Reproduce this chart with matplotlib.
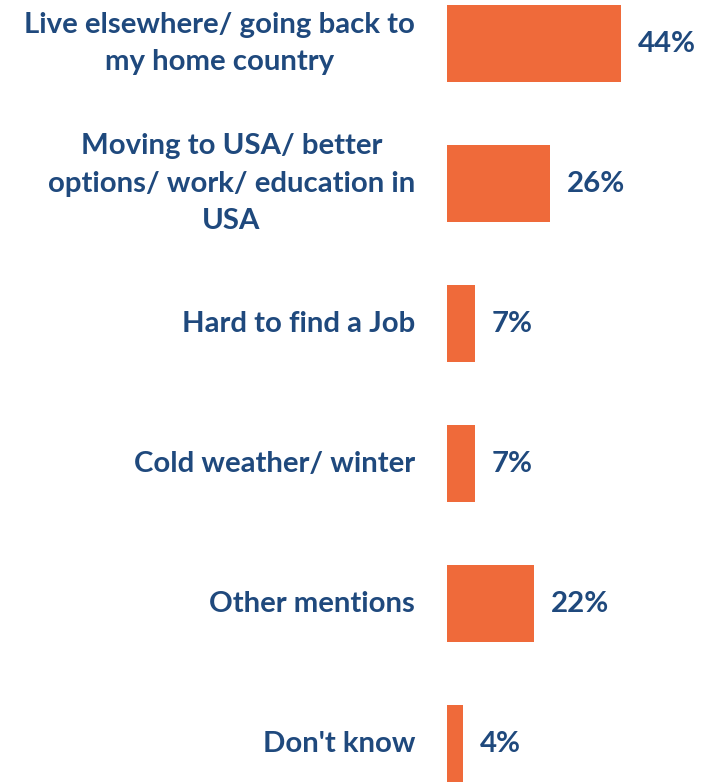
import matplotlib.pyplot as plt

# データ
categories = [
    "Live elsewhere/ going back to\nmy home country",
    "Moving to USA/ better\noptions/ work/ education in\nUSA",
    "Hard to find a Job",
    "Cold weather/ winter",
    "Other mentions",
    "Don't know",
]
values = [44, 26, 7, 7, 22, 4]
value_labels = ["44%", "26%", "7%", "7%", "22%", "4%"]

bar_color = "#EF6A3A"
text_color = "#1F497D"

fig = plt.figure(figsize=(7.06, 7.83), dpi=100)
ax = fig.add_axes([447 / 706, 0, 1 - 447 / 706, 1])

y = list(range(len(categories)))
ax.barh(y, values, height=0.55, color=bar_color)

ax.set_xlim(0, 65.6)
ax.set_ylim(5.282, -0.311)
ax.axis("off")

# オフセットはポイント単位（100dpi なので 1px = 0.72pt）
for yi, cat, v, lab in zip(y, categories, values, value_labels):
    ax.annotate(cat, xy=(0, yi), xytext=(-23, 0), textcoords="offset points",
                ha="right", va="center", multialignment="center",
                fontsize=21.2, fontweight="bold", family="Lato",
                color=text_color, linespacing=1.55)
    ax.annotate(lab, xy=(v, yi), xytext=(12.5, 0), textcoords="offset points",
                ha="left", va="center",
                fontsize=21.2, fontweight="bold", family="Lato",
                color=text_color)

fig.savefig("out.png", dpi=100)
